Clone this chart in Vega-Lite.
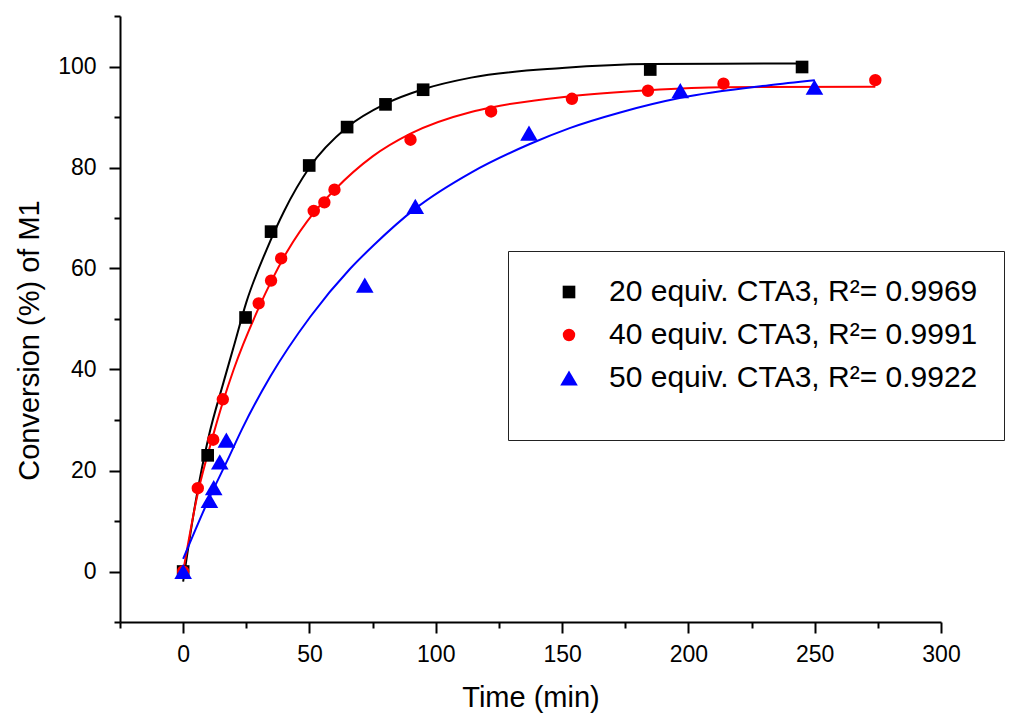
{
  "$schema": "https://vega.github.io/schema/vega-lite/v6.json",
  "autosize": "none",
  "width": 821,
  "height": 606,
  "padding": {"left": 120, "top": 16, "right": 88, "bottom": 94},
  "background": "white",
  "config": {"view": {"stroke": null}, "font": "Liberation Sans"},
  "datasets": {
    "pts": [
      {"series": "20 equiv. CTA3, R²= 0.9969", "t": 0, "v": 0},
      {"series": "20 equiv. CTA3, R²= 0.9969", "t": 9.7, "v": 23.0},
      {"series": "20 equiv. CTA3, R²= 0.9969", "t": 24.7, "v": 50.3},
      {"series": "20 equiv. CTA3, R²= 0.9969", "t": 34.8, "v": 67.3},
      {"series": "20 equiv. CTA3, R²= 0.9969", "t": 49.9, "v": 80.4},
      {"series": "20 equiv. CTA3, R²= 0.9969", "t": 64.9, "v": 88.0},
      {"series": "20 equiv. CTA3, R²= 0.9969", "t": 80.1, "v": 92.5},
      {"series": "20 equiv. CTA3, R²= 0.9969", "t": 95, "v": 95.4},
      {"series": "20 equiv. CTA3, R²= 0.9969", "t": 184.9, "v": 99.4},
      {"series": "20 equiv. CTA3, R²= 0.9969", "t": 245, "v": 99.9},
      {"series": "40 equiv. CTA3, R²= 0.9991", "t": 0, "v": 0},
      {"series": "40 equiv. CTA3, R²= 0.9991", "t": 5.8, "v": 16.5},
      {"series": "40 equiv. CTA3, R²= 0.9991", "t": 11.9, "v": 26.1},
      {"series": "40 equiv. CTA3, R²= 0.9991", "t": 15.7, "v": 34.1},
      {"series": "40 equiv. CTA3, R²= 0.9991", "t": 29.9, "v": 53.1},
      {"series": "40 equiv. CTA3, R²= 0.9991", "t": 34.8, "v": 57.6},
      {"series": "40 equiv. CTA3, R²= 0.9991", "t": 38.8, "v": 62.0},
      {"series": "40 equiv. CTA3, R²= 0.9991", "t": 51.7, "v": 71.4},
      {"series": "40 equiv. CTA3, R²= 0.9991", "t": 55.9, "v": 73.1},
      {"series": "40 equiv. CTA3, R²= 0.9991", "t": 59.9, "v": 75.6},
      {"series": "40 equiv. CTA3, R²= 0.9991", "t": 90, "v": 85.5},
      {"series": "40 equiv. CTA3, R²= 0.9991", "t": 121.9, "v": 91.1},
      {"series": "40 equiv. CTA3, R²= 0.9991", "t": 153.9, "v": 93.6},
      {"series": "40 equiv. CTA3, R²= 0.9991", "t": 184, "v": 95.2},
      {"series": "40 equiv. CTA3, R²= 0.9991", "t": 213.9, "v": 96.6},
      {"series": "40 equiv. CTA3, R²= 0.9991", "t": 274, "v": 97.3},
      {"series": "50 equiv. CTA3, R²= 0.9922", "t": 0, "v": 0},
      {"series": "50 equiv. CTA3, R²= 0.9922", "t": 10.4, "v": 14.1},
      {"series": "50 equiv. CTA3, R²= 0.9922", "t": 12.1, "v": 16.6},
      {"series": "50 equiv. CTA3, R²= 0.9922", "t": 14.5, "v": 21.7},
      {"series": "50 equiv. CTA3, R²= 0.9922", "t": 17.1, "v": 26.0},
      {"series": "50 equiv. CTA3, R²= 0.9922", "t": 71.9, "v": 56.7},
      {"series": "50 equiv. CTA3, R²= 0.9922", "t": 91.9, "v": 72.3},
      {"series": "50 equiv. CTA3, R²= 0.9922", "t": 136.9, "v": 86.8},
      {"series": "50 equiv. CTA3, R²= 0.9922", "t": 196.8, "v": 95.2},
      {"series": "50 equiv. CTA3, R²= 0.9922", "t": 249.9, "v": 95.9}
    ],
    "fit": [
      {"fs": "20", "t": 0, "v": -2},
      {"fs": "20", "t": 5, "v": 14},
      {"fs": "20", "t": 10, "v": 26.5},
      {"fs": "20", "t": 16, "v": 37.5},
      {"fs": "20", "t": 20, "v": 44.5},
      {"fs": "20", "t": 25, "v": 53.3},
      {"fs": "20", "t": 33, "v": 63.7},
      {"fs": "20", "t": 40, "v": 71.4},
      {"fs": "20", "t": 50, "v": 80.0},
      {"fs": "20", "t": 65, "v": 88},
      {"fs": "20", "t": 80, "v": 92.6},
      {"fs": "20", "t": 95, "v": 95.5},
      {"fs": "20", "t": 114, "v": 97.8},
      {"fs": "20", "t": 150, "v": 99.7},
      {"fs": "20", "t": 185, "v": 100.5},
      {"fs": "20", "t": 245, "v": 100.6},
      {"fs": "40", "t": 0, "v": 0},
      {"fs": "40", "t": 5.8, "v": 15.5},
      {"fs": "40", "t": 12, "v": 27.2},
      {"fs": "40", "t": 15.7, "v": 33.5},
      {"fs": "40", "t": 20, "v": 40.0},
      {"fs": "40", "t": 30, "v": 52.3},
      {"fs": "40", "t": 35, "v": 57.6},
      {"fs": "40", "t": 41, "v": 63.2},
      {"fs": "40", "t": 52, "v": 71.2},
      {"fs": "40", "t": 60, "v": 75.6},
      {"fs": "40", "t": 75, "v": 82.2},
      {"fs": "40", "t": 90, "v": 86.7},
      {"fs": "40", "t": 114, "v": 91.0},
      {"fs": "40", "t": 122, "v": 91.9},
      {"fs": "40", "t": 153, "v": 94.1},
      {"fs": "40", "t": 184, "v": 95.3},
      {"fs": "40", "t": 214, "v": 95.9},
      {"fs": "40", "t": 274, "v": 96.0},
      {"fs": "50", "t": 0, "v": 2.5},
      {"fs": "50", "t": 10.4, "v": 14.6},
      {"fs": "50", "t": 17.5, "v": 22.0},
      {"fs": "50", "t": 23.3, "v": 28.2},
      {"fs": "50", "t": 34.5, "v": 38.6},
      {"fs": "50", "t": 50.4, "v": 50.5},
      {"fs": "50", "t": 66, "v": 59.9},
      {"fs": "50", "t": 75.4, "v": 64.6},
      {"fs": "50", "t": 92, "v": 71.9},
      {"fs": "50", "t": 114, "v": 79.0},
      {"fs": "50", "t": 137, "v": 84.6},
      {"fs": "50", "t": 153, "v": 87.8},
      {"fs": "50", "t": 173, "v": 90.9},
      {"fs": "50", "t": 197, "v": 93.8},
      {"fs": "50", "t": 232, "v": 96.3},
      {"fs": "50", "t": 250, "v": 97.3}
    ]
  },
  "encoding": {
    "x": {
      "field": "t", "type": "quantitative",
      "scale": {"domain": [-25, 300], "nice": false, "zero": false},
      "axis": {
        "title": "Time (min)",
        "titleFontSize": 29, "titleFontWeight": "normal", "titleColor": "black",
        "titleFont": "Liberation Sans", "titleBaseline": "alphabetic", "titleY": 84,
        "values": [-25, 0, 25, 50, 75, 100, 125, 150, 175, 200, 225, 250, 275, 300],
        "labelExpr": "datum.value % 50 === 0 ? datum.label : ''",
        "labelFontSize": 23, "labelColor": "black", "labelFont": "Liberation Sans",
        "labelFlush": false, "labelOverlap": false, "labelPadding": 10,
        "tickSize": {"condition": {"test": "datum.value % 50 === 0", "value": 11}, "value": 6},
        "tickWidth": 2, "tickColor": "black",
        "domainColor": "black", "domainWidth": 2, "grid": false
      }
    },
    "y": {
      "field": "v", "type": "quantitative",
      "scale": {"domain": [-10, 110], "nice": false, "zero": false},
      "axis": {
        "title": "Conversion (%) of M1",
        "titleFontSize": 29, "titleFontWeight": "normal", "titleColor": "black",
        "titleFont": "Liberation Sans", "titleBaseline": "alphabetic",
        "titleX": -82, "titleY": 324, "titleAngle": -90,
        "values": [-10, 0, 10, 20, 30, 40, 50, 60, 70, 80, 90, 100, 110],
        "labelExpr": "datum.value % 20 === 0 ? datum.label : ''",
        "labelFontSize": 23, "labelColor": "black", "labelFont": "Liberation Sans",
        "labelFlush": false, "labelOverlap": false, "labelPadding": 13,
        "tickSize": {"condition": {"test": "datum.value % 20 === 0", "value": 11}, "value": 6},
        "tickWidth": 2, "tickColor": "black",
        "domainColor": "black", "domainWidth": 2, "grid": false
      }
    }
  },
  "layer": [
    {
      "data": {"name": "fit"},
      "mark": {"type": "line", "interpolate": "monotone", "strokeWidth": 2},
      "encoding": {
        "stroke": {
          "field": "fs", "type": "nominal",
          "scale": {"domain": ["20", "40", "50"], "range": ["#000000", "#ff0000", "#0000ff"]},
          "legend": null
        }
      }
    },
    {
      "data": {"name": "pts"},
      "mark": {"type": "point", "filled": true, "opacity": 1, "strokeWidth": 0},
      "encoding": {
        "color": {
          "field": "series", "type": "nominal",
          "scale": {"domain": ["20 equiv. CTA3, R²= 0.9969", "40 equiv. CTA3, R²= 0.9991", "50 equiv. CTA3, R²= 0.9922"], "range": ["#000000", "#ff0000", "#0000ff"]},
          "legend": {
            "orient": "none", "legendX": 388, "legendY": 235,
            "title": " ", "titleOrient": "bottom", "titleFontSize": 22, "titlePadding": 0,
            "strokeColor": "#222222", "fillColor": "white", "padding": 26,
            "labelFontSize": 30, "labelFont": "Liberation Sans", "labelColor": "black",
            "rowPadding": 13, "symbolOffset": 20, "labelOffset": 25, "labelLimit": 600,
            "symbolStrokeWidth": 0
          }
        },
        "shape": {
          "field": "series", "type": "nominal",
          "scale": {"domain": ["20 equiv. CTA3, R²= 0.9969", "40 equiv. CTA3, R²= 0.9991", "50 equiv. CTA3, R²= 0.9922"], "range": ["square", "circle", "triangle-up"]}
        },
        "size": {
          "field": "series", "type": "nominal",
          "scale": {"type": "ordinal", "domain": ["20 equiv. CTA3, R²= 0.9969", "40 equiv. CTA3, R²= 0.9991", "50 equiv. CTA3, R²= 0.9922"], "range": [160, 154, 310]}
        }
      }
    }
  ]
}
